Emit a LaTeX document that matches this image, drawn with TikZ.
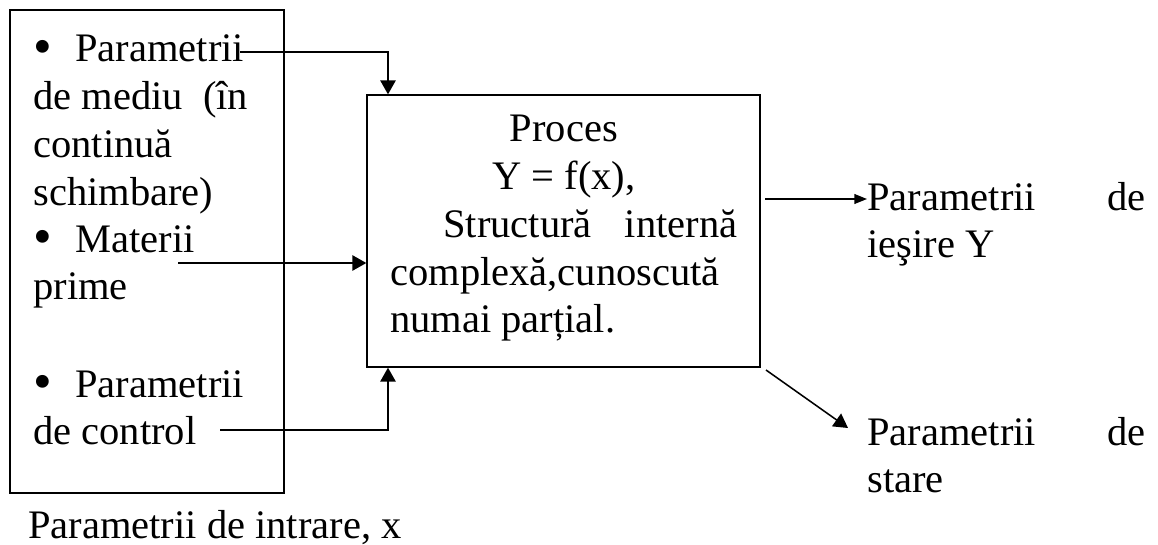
\documentclass[tikz,border=0pt]{standalone}
\usepackage{fontspec}
\setmainfont{Liberation Serif}
\usetikzlibrary{arrows.meta,positioning}
\newcommand{\bodysize}{\fontsize{28.8}{33.9}\selectfont}
\newcommand{\dotmark}{\makebox[1.05cm][l]{\raisebox{-1.5pt}{\fontsize{38}{38}\selectfont •}}}
\tikzset{
 every node/.append style={font=\bodysize,inner sep=0pt},
 frame/.style={draw,line width=.9pt},
 item/.style={anchor=base west,align=flush left,text width=6cm},
 flow/.style={-{Triangle[length=10pt,width=11pt]},line width=1.1pt},
 result/.style={-{Triangle[length=9pt,width=7pt]},line width=1pt},
}

\begin{document}
\begin{tikzpicture}[x=0.025cm,y=-0.025cm]

\useasboundingbox (0,0) rectangle (1158,545);
\node[frame,minimum width=6.85cm,minimum height=12.075cm] (intrare) at (147,251.5) {};
\node[frame,minimum width=9.825cm,minimum height=6.8cm] (proces) at (563.5,231) {};
\node[item] (mediu) at (33,62) {\dotmark Parametrii\\de mediu~ (în\\continuă\\schimbare)};
\node[item] (materii) at (33,252) {\dotmark Materii\\prime};
\node[item] (control) at (33,397) {\dotmark Parametrii\\de control};
\node[item,text width=8.675cm] (model) at (390,142) {\makebox[\hsize]{Proces}\\\makebox[\hsize]{Y = f(x),}\\\hspace*{1.325cm}Structură\hfill internă\\complexă,cunoscută\\numai parțial.};
\node[item,text width=6.95cm] (iesire) at (867,210) {Parametrii\hfill de\\ieşire Y};
\node[item,text width=6.95cm] (stare) at (867,445) {Parametrii\hfill de\\stare};
\node[item,text width=11cm] (legenda) at (28,538) {Parametrii de intrare, x};
\coordinate (tap) at (388,0);
\coordinate (mediuEnd) at (240,52);
\coordinate (materiiEnd) at (178,263);
\coordinate (controlEnd) at (220,430);
\coordinate (iesireStart) at (765,199);
\coordinate (stareStart) at (766,370);
\coordinate (stareTip) at (848,428);
\draw[flow] (mediuEnd) -| (tap |- proces.north);
\draw[flow] (materiiEnd) -- (materiiEnd -| proces.west);
\draw[flow] (controlEnd) -| (tap |- proces.south);
\draw[result] (iesireStart) -- (iesireStart -| iesire.west);
\draw[flow] (stareStart) -- (stareTip);

\end{tikzpicture}
\end{document}
